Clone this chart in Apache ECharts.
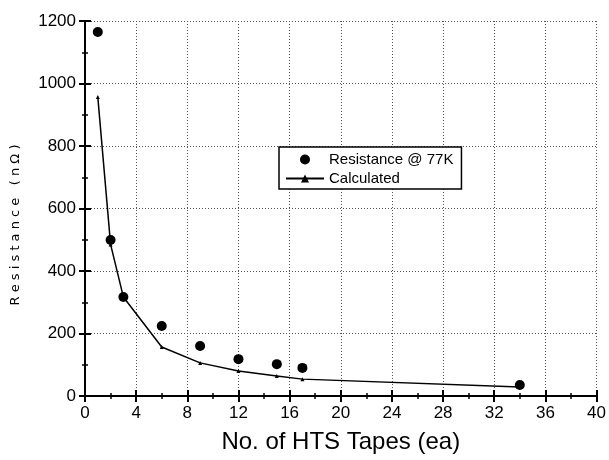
<!DOCTYPE html>
<html>
<head>
<meta charset="utf-8">
<script src="https://cdn.jsdelivr.net/npm/echarts@6/dist/echarts.min.js"></script>
<style>
html, body { margin: 0; padding: 0; background: #fff; }
#chart { width: 609px; height: 460px; }
</style>
</head>
<body>
<div id="chart"></div>
<script>
/* data */
var tapes = [1, 2, 3, 6, 9, 12, 15, 17, 34];
var measured = [1165, 499, 317, 224, 160, 118, 102, 90, 35];
var calculated = [957, 485, 317, 157, 106, 80, 64, 54, 29];
var xTicks = [0, 4, 8, 12, 16, 20, 24, 28, 32, 36, 40];
var yTicks = [0, 200, 400, 600, 800, 1000, 1200];

var measuredData = [], calcData = [];
tapes.forEach(function (t, i) {
    measuredData.push([t, measured[i]]);
    calcData.push([t, calculated[i]]);
});

var font = '"Liberation Sans", Arial, sans-serif';
var plain = function (v) { return String(v); };

var myChart = echarts.init(document.getElementById('chart'));
var options = {
    animation: false,
    grid: { left: 85, right: 12, top: 21, bottom: 64 },
    /* y-axis title sits a bit below the middle of the axis in the original */
    graphic: [
        {
            type: 'text',
            x: 16,
            y: 225,
            rotation: Math.PI / 2,
            style: {
                text: 'R e s i s t a n c e   ( n Ω )',
                fill: '#000',
                font: '13px "DejaVu Sans", sans-serif',
                align: 'center',
                verticalAlign: 'middle'
            }
        }
    ],
    legend: {
        orient: 'vertical',
        left: 279,
        top: 147,
        padding: [5, 8, 3, 6],
        itemGap: 4,
        itemWidth: 38,
        itemHeight: 10,
        borderColor: '#000',
        borderWidth: 1.5,
        backgroundColor: '#fff',
        textStyle: { color: '#000', fontFamily: font, fontSize: 15 },
        data: ['Resistance @ 77K', 'Calculated']
    },
    xAxis: [
        {
            type: 'value',
            min: xTicks[0],
            max: xTicks[xTicks.length - 1],
            interval: 4,
            name: 'No. of HTS Tapes (ea)',
            nameLocation: 'middle',
            nameGap: 34,
            nameTextStyle: { color: '#000', fontFamily: font, fontSize: 24 },
            axisLine: { lineStyle: { color: '#000', width: 2 } },
            axisTick: { inside: true, length: 6, lineStyle: { color: '#000', width: 2 } },
            minorTick: { show: true, splitNumber: 2, length: 3, lineStyle: { color: '#000', width: 1.5 } },
            axisLabel: { color: '#000', fontFamily: font, fontSize: 17, margin: 9, formatter: plain },
            splitLine: { show: true, lineStyle: { color: '#555', type: [1, 2], width: 1 } }
        },
        {
            type: 'value',
            position: 'top',
            min: xTicks[0],
            max: xTicks[xTicks.length - 1],
            interval: 4,
            axisLine: { show: true, lineStyle: { color: '#000', width: 2 } },
            axisTick: { inside: true, length: 6, lineStyle: { color: '#000', width: 2 } },
            minorTick: { show: true, splitNumber: 2, length: 3, lineStyle: { color: '#000', width: 1.5 } },
            axisLabel: { show: false },
            splitLine: { show: false }
        }
    ],
    yAxis: [
        {
            type: 'value',
            min: yTicks[0],
            max: yTicks[yTicks.length - 1],
            interval: 200,
            axisLine: { show: true, lineStyle: { color: '#000', width: 2 } },
            axisTick: { inside: true, length: 6, lineStyle: { color: '#000', width: 2 } },
            minorTick: { show: true, splitNumber: 2, length: 3, lineStyle: { color: '#000', width: 1.5 } },
            axisLabel: { color: '#000', fontFamily: font, fontSize: 17, margin: 9, formatter: plain },
            splitLine: { show: true, lineStyle: { color: '#555', type: [1, 2], width: 1 } }
        },
        {
            type: 'value',
            position: 'right',
            min: yTicks[0],
            max: yTicks[yTicks.length - 1],
            interval: 200,
            axisLine: { show: true, lineStyle: { color: '#000', width: 2 } },
            axisTick: { inside: true, length: 6, lineStyle: { color: '#000', width: 2 } },
            minorTick: { show: true, splitNumber: 2, length: 3, lineStyle: { color: '#000', width: 1.5 } },
            axisLabel: { show: false },
            splitLine: { show: false }
        }
    ],
    series: [
        {
            name: 'Calculated',
            type: 'line',
            data: calcData,
            symbol: 'triangle',
            symbolSize: 4,
            lineStyle: { color: '#000', width: 1.5 },
            itemStyle: { color: '#000' }
        },
        {
            name: 'Resistance @ 77K',
            type: 'scatter',
            data: measuredData,
            symbol: 'circle',
            symbolSize: 10,
            itemStyle: { color: '#000', opacity: 1 }
        }
    ]
};
myChart.setOption(options);
</script>
</body>
</html>
